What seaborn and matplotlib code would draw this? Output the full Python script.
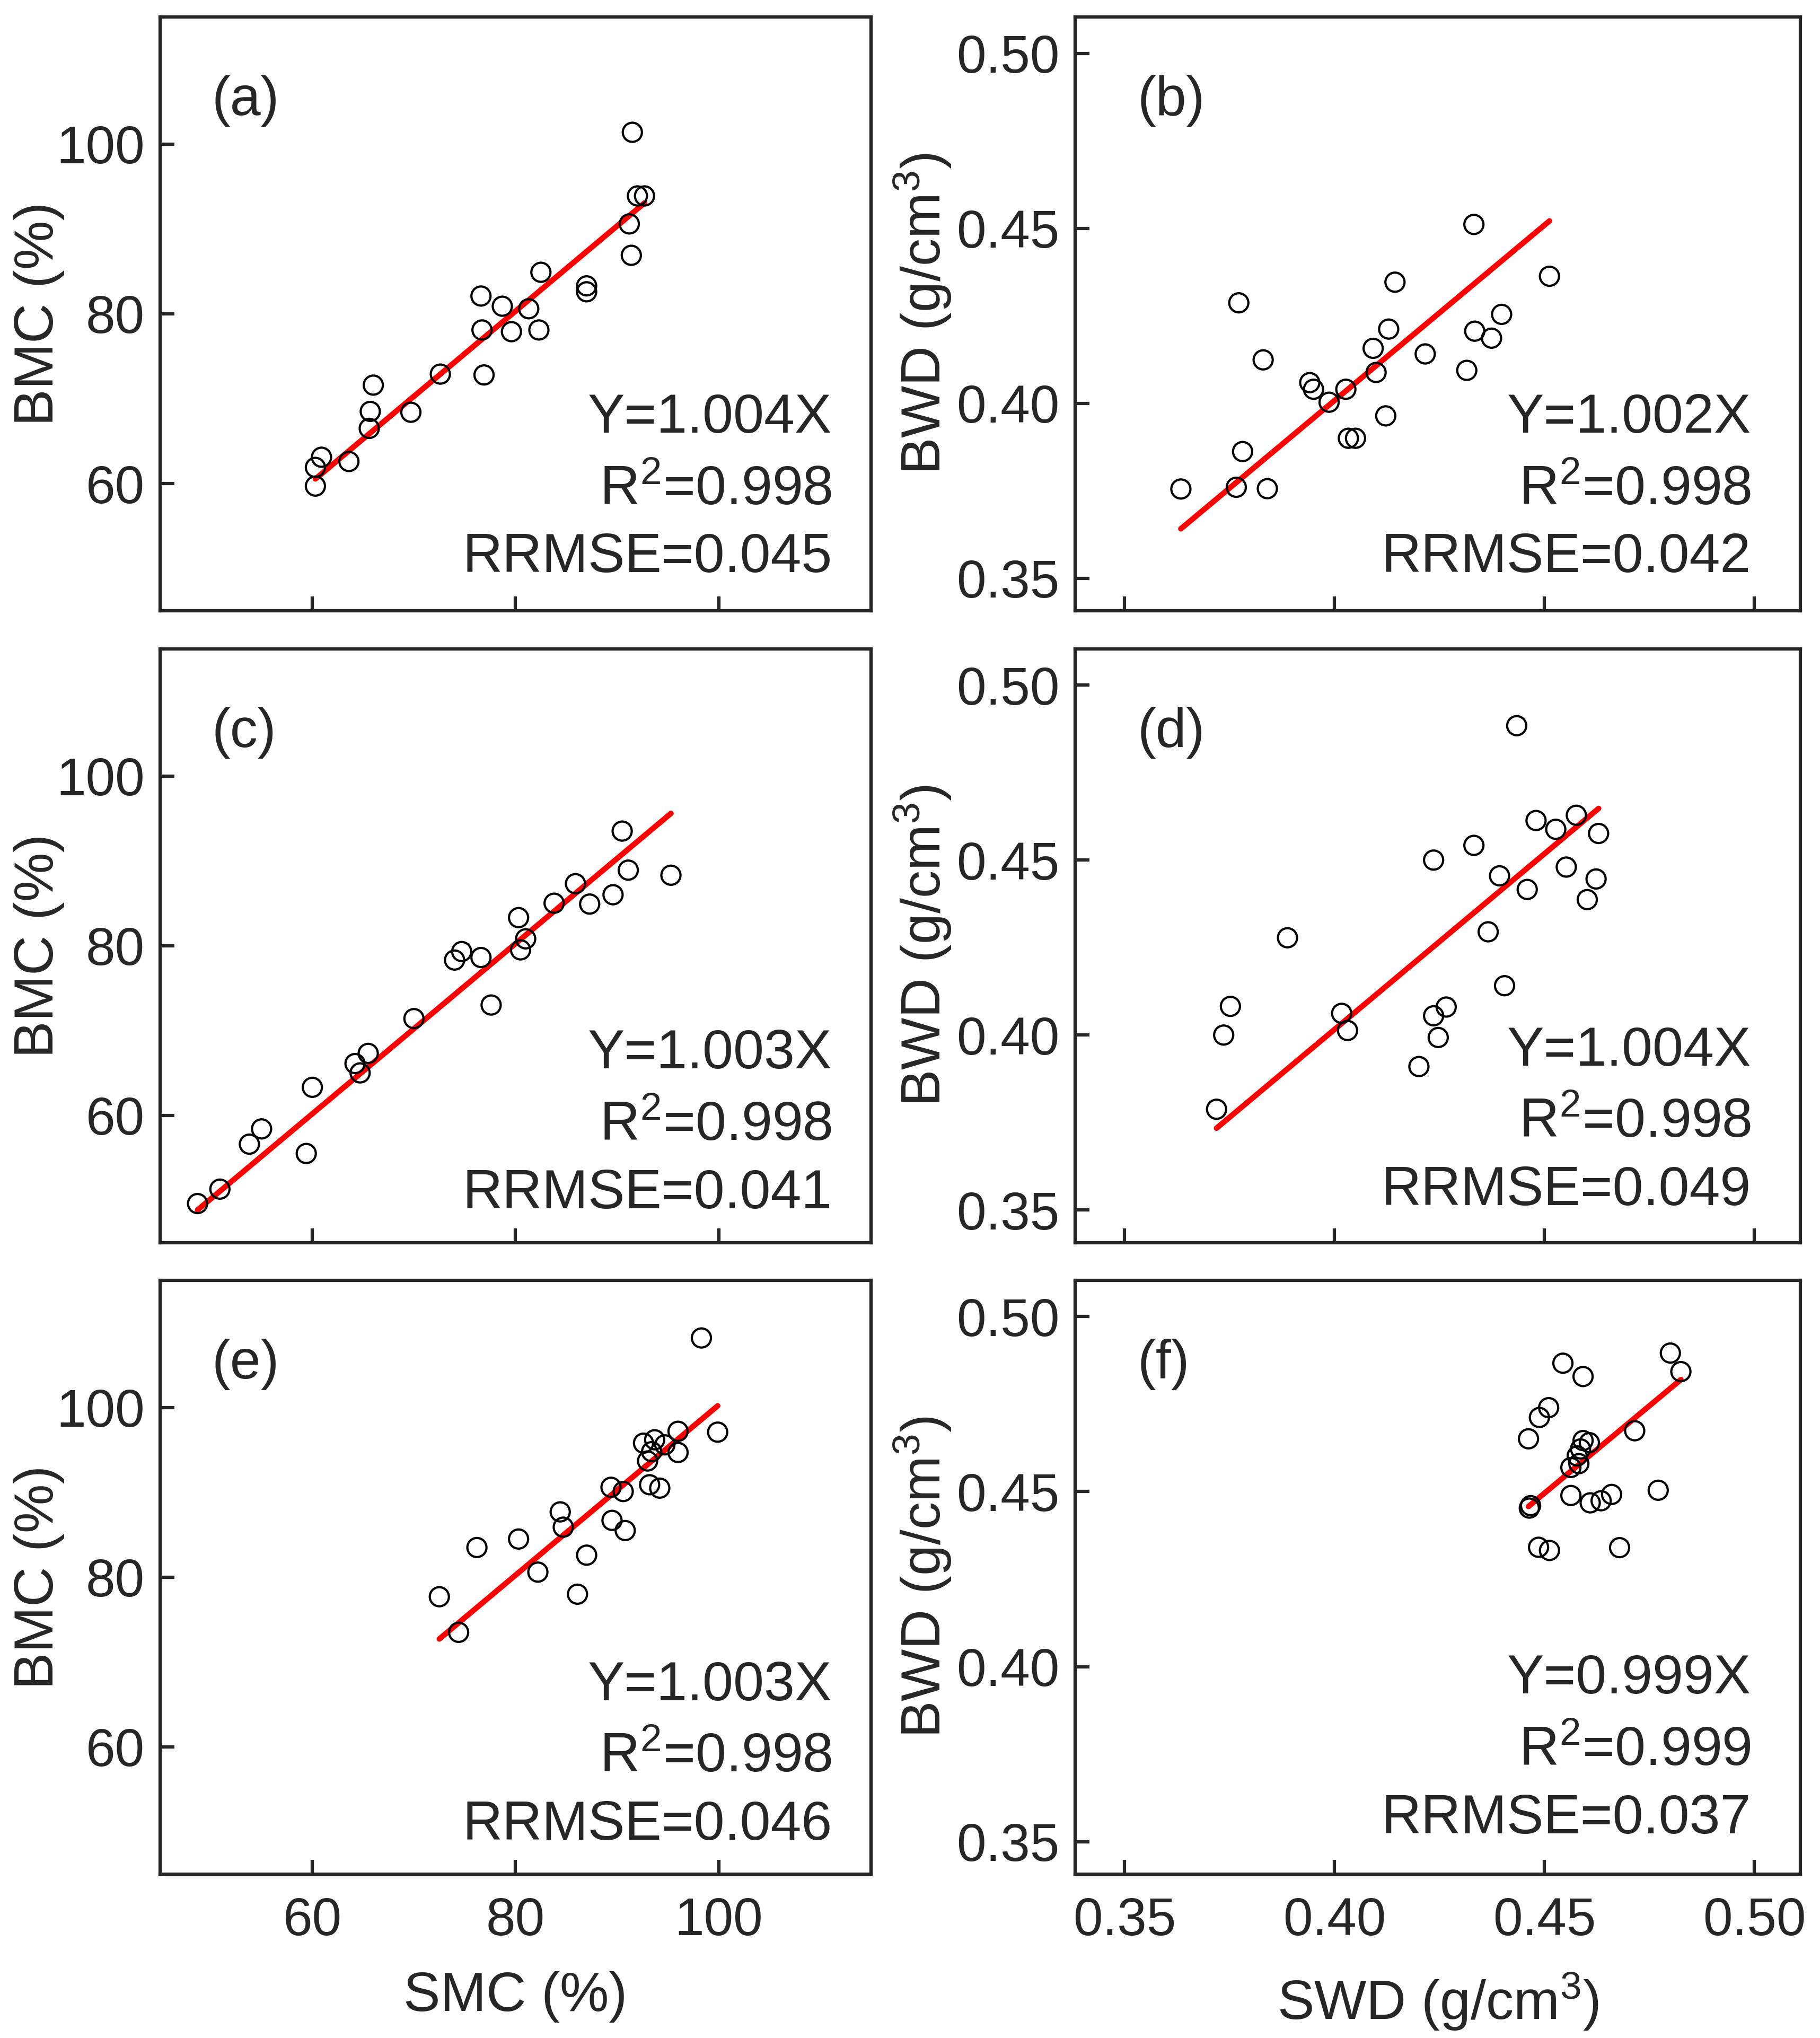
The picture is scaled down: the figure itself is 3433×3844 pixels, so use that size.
import numpy as np
import pandas as pd
import matplotlib
matplotlib.use("Agg")
import matplotlib.pyplot as plt
import seaborn as sns

# ---- data ----
# (a) moisture content, group 1
smc_a = [91.5, 92.0, 92.7, 91.2, 91.4, 82.5, 87.0, 87.0, 76.6, 78.7, 81.3, 76.7,
         79.6, 82.3, 76.9, 72.6, 66.0, 65.7, 69.7, 65.6, 60.9, 63.6, 60.3, 60.3]
bmc_a = [101.4, 93.9, 93.9, 90.6, 86.9, 84.9, 83.3, 82.6, 82.1, 80.9, 80.6, 78.1,
         77.9, 78.1, 72.8, 72.9, 71.6, 68.5, 68.4, 66.5, 63.1, 62.6, 61.9, 59.7]

# (b) wood density, group 1
swd_b = [0.4332, 0.4512, 0.4144, 0.3772, 0.4398, 0.4129, 0.4334, 0.4374, 0.4092,
         0.4216, 0.3830, 0.4099, 0.4315, 0.3941, 0.3950, 0.4027, 0.3987, 0.4122,
         0.4033, 0.4050, 0.3781, 0.3634, 0.3766, 0.3840]
bwd_b = [0.4511, 0.4363, 0.4346, 0.4287, 0.4254, 0.4212, 0.4206, 0.4186, 0.4157,
         0.4141, 0.4124, 0.4088, 0.4094, 0.4059, 0.4040, 0.4040, 0.4003, 0.3964,
         0.3900, 0.3900, 0.3862, 0.3755, 0.3760, 0.3756]

# (c) moisture content, group 2
smc_c = [90.5, 91.1, 95.3, 85.9, 89.6, 83.8, 87.3, 80.3, 81.0, 80.5, 74.7, 74.0,
         76.6, 77.6, 70.0, 65.5, 64.2, 64.7, 60.0, 55.0, 53.8, 59.4, 50.9, 48.7]
bmc_c = [93.5, 88.9, 88.3, 87.3, 86.0, 85.0, 84.9, 83.3, 80.8, 79.5, 79.3, 78.3,
         78.6, 73.0, 71.4, 67.3, 66.1, 65.0, 63.3, 58.4, 56.6, 55.5, 51.3, 49.6]

# (d) wood density, group 2
swd_d = [0.4434, 0.4480, 0.4576, 0.4527, 0.4629, 0.4332, 0.4236, 0.4552, 0.4393,
         0.4623, 0.4459, 0.4602, 0.3888, 0.4366, 0.4405, 0.3752, 0.4266, 0.4236,
         0.4017, 0.4031, 0.3736, 0.4247, 0.4201, 0.3719]
bwd_d = [0.4884, 0.4613, 0.4628, 0.4588, 0.4576, 0.4542, 0.4500, 0.4480, 0.4455,
         0.4446, 0.4416, 0.4387, 0.4278, 0.4295, 0.4141, 0.4082, 0.4080, 0.4055,
         0.4062, 0.4013, 0.4000, 0.3993, 0.3910, 0.3788]

# (e) moisture content, group 3
smc_e = [98.3, 99.9, 96.0, 93.7, 92.6, 94.7, 93.4, 96.0, 93.0, 89.4, 93.2, 94.2,
         90.6, 84.4, 84.7, 89.5, 90.8, 80.3, 76.2, 87.0, 82.2, 86.1, 72.5, 74.4]
bmc_e = [108.2, 97.1, 97.2, 96.2, 95.8, 95.6, 94.8, 94.7, 93.7, 90.6, 90.9, 90.5,
         90.1, 87.7, 85.9, 86.7, 85.5, 84.5, 83.5, 82.6, 80.6, 78.0, 77.7, 73.5]

# (f) wood density, group 3
swd_f = [0.4800, 0.4825, 0.4544, 0.4592, 0.4510, 0.4488, 0.4462, 0.4715, 0.4592,
         0.4607, 0.4586, 0.4578, 0.4582, 0.4563, 0.4771, 0.4660, 0.4635, 0.4609,
         0.4563, 0.4467, 0.4464, 0.4486, 0.4512, 0.4679]
bwd_f = [0.4896, 0.4843, 0.4867, 0.4829, 0.4740, 0.4712, 0.4651, 0.4674, 0.4646,
         0.4640, 0.4622, 0.4602, 0.4580, 0.4569, 0.4504, 0.4492, 0.4474, 0.4468,
         0.4489, 0.4460, 0.4453, 0.4341, 0.4332, 0.4340]

panel_letters = ["(a)", "(b)", "(c)", "(d)", "(e)", "(f)"]
slopes = ["1.004", "1.002", "1.003", "1.004", "1.003", "0.999"]
r2_vals = ["0.998", "0.998", "0.998", "0.998", "0.998", "0.999"]
rrmse_vals = ["0.045", "0.042", "0.041", "0.049", "0.046", "0.037"]

mc_ticks = [60, 80, 100]
wd_ticks = [0.35, 0.40, 0.45, 0.50]

# ---- style ----
sns.set_style("ticks")
plt.rcParams["font.family"] = ["Liberation Sans", "DejaVu Sans"]
plt.rcParams["mathtext.fontset"] = "custom"
plt.rcParams["mathtext.rm"] = "Liberation Sans"
plt.rcParams["mathtext.it"] = "Liberation Sans:italic"

fig = plt.figure(figsize=(3433 / 300, 3844 / 300), dpi=300)

col_left = [0.0879, 0.5907]
col_width = [0.3907, 0.3986]
row_bottom = [0.7003, 0.3903, 0.0804]
row_height = 0.2914

panels = [
    (smc_a, bmc_a), (swd_b, bwd_b),
    (smc_c, bmc_c), (swd_d, bwd_d),
    (smc_e, bmc_e), (swd_f, bwd_f),
]
# vertical placement of the three statistics lines (axes fraction)
stat_y = [0.300, 0.300, 0.293, 0.298, 0.293, 0.304]

for i, (xs, ys) in enumerate(panels):
    row, col = divmod(i, 2)
    ax = fig.add_axes([col_left[col], row_bottom[row], col_width[col], row_height])
    df = pd.DataFrame({"obs": xs, "est": ys})

    sns.scatterplot(data=df, x="obs", y="est", ax=ax, marker="o", s=75,
                    fc="none", ec="black", linewidth=1.0, zorder=3)

    slope = float(slopes[i])
    xfit = np.array([df["obs"].min(), df["obs"].max()])
    sns.lineplot(x=xfit, y=slope * xfit, ax=ax, color="#ff0000", lw=2.5,
                 zorder=2, solid_capstyle="round")

    if col == 0:
        ax.set_xlim(45, 115)
        ax.set_ylim(45, 115)
        ax.set_xticks(mc_ticks)
        ax.set_yticks(mc_ticks)
        ax.set_ylabel("BMC (%)", fontsize=25)
        ax.yaxis.set_label_coords(-0.134, 0.5)
        if row == 2:
            ax.set_xlabel("SMC (%)", fontsize=25)
    else:
        ax.set_xlim(0.3382, 0.511)
        ax.set_ylim(0.3407, 0.5104)
        ax.set_xticks(wd_ticks)
        ax.set_yticks(wd_ticks)
        ax.set_xticklabels([f"{t:.2f}" for t in wd_ticks])
        ax.set_yticklabels([f"{t:.2f}" for t in wd_ticks])
        ax.set_ylabel(r"BWD (g/cm$^\mathregular{3}$)", fontsize=25)
        ax.yaxis.set_label_coords(-0.168, 0.5)
        if row == 2:
            ax.set_xlabel(r"SWD (g/cm$^\mathregular{3}$)", fontsize=25)

    if row < 2:
        ax.set_xlabel("")
        ax.tick_params(axis="x", labelbottom=False)
    else:
        ax.xaxis.set_label_coords(0.5, -0.163)

    ax.tick_params(direction="in", length=6.5, width=1.5, labelsize=24, pad=7)
    ax.tick_params(axis="x", pad=10)
    for sp in ax.spines.values():
        sp.set_visible(True)
        sp.set_linewidth(1.5)

    ax.text(0.073 if col == 0 else 0.086, 0.858, panel_letters[i],
            transform=ax.transAxes, fontsize=25, ha="left", va="center")

    xr = 0.945 if col == 0 else 0.932
    base = stat_y[i]
    ax.text(xr, base, f"Y={slopes[i]}X", transform=ax.transAxes,
            fontsize=25, ha="right", va="baseline")
    ax.text(xr, base - 0.121, r"R$^\mathregular{2}$=" + r2_vals[i],
            transform=ax.transAxes, fontsize=25, ha="right", va="baseline")
    ax.text(xr, base - 0.235, f"RRMSE={rrmse_vals[i]}", transform=ax.transAxes,
            fontsize=25, ha="right", va="baseline")

fig.savefig("out.png", dpi=300, facecolor="white")
